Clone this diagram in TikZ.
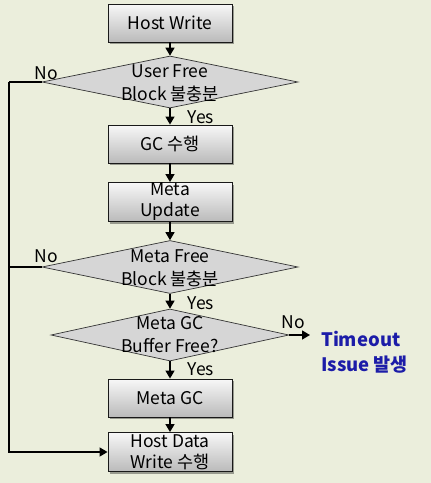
\documentclass[tikz,border=0pt]{standalone}
\usepackage{fontspec}
\setmainfont{Noto Sans CJK KR}
\usetikzlibrary{shapes.geometric,arrows.meta,shadows}
\definecolor{bgc}{HTML}{EBEEDC}
\definecolor{diafill}{HTML}{D6D6D6}
\definecolor{tblue}{HTML}{1C1CA8}
\tikzset{
  box/.style={draw=black!90, line width=0.9pt, minimum width=124pt, minimum height=38pt,
    top color=white!97!black, bottom color=black!27, align=center, inner sep=0pt,
    font=\fontsize{17.5}{21}\selectfont,
    drop shadow={shadow xshift=2pt, shadow yshift=-2pt, fill=black, opacity=0.35}},
  dia/.style={shape=diamond, draw=black!80, line width=0.7pt, fill=diafill, inner sep=0pt},
  diatext/.style={align=center, font=\fontsize{17.5}{23}\selectfont},
  lbl/.style={font=\fontsize{17.5}{20}\selectfont, inner sep=0pt},
  conn/.style={draw=black, line width=1.4pt, -{Triangle[length=8pt,width=9pt]}},
  plain/.style={draw=black, line width=1.4pt}
}
\begin{document}
\begin{tikzpicture}[x=1pt,y=-1pt]
\fill[bgc] (0,0) rectangle (431,483);
\useasboundingbox (0,0) rectangle (431,483);

\node[box] (hw) at (170,23) {Host Write};
\node[dia, minimum width=256pt, minimum height=52pt] (d1) at (170,82) {};
\node[diatext] (d1t) at (170,83) {User Free\\Block 불충분};
\node[box] (gc) at (170,144) {GC 수행};
\node[box, minimum height=39pt] (mu) at (170,202) {Meta\\Update};
\node[dia, minimum width=256pt, minimum height=53pt] (d2) at (170,267) {};
\node[diatext] (d2t) at (170,268) {Meta Free\\Block 불충분};
\node[dia, minimum width=238pt, minimum height=52pt] (d3) at (170,335) {};
\node[diatext] (d3t) at (170,335) {Meta GC\\Buffer Free?};
\node[box] (mgc) at (170,398) {Meta GC};
\node[box, minimum height=39pt] (hdw) at (170,452) {Host Data\\Write 수행};

\node[anchor=west, align=left, text=tblue, font=\bfseries\fontsize{18.5}{25}\selectfont, inner sep=0pt] (to) at (321,352) {Timeout\\Issue 발생};

\coordinate (lt) at (9,82);
\coordinate (lm) at (9,267);
\coordinate (lb) at (9,452);
\coordinate (rn) at (310,335);

\draw[conn] (hw) -- (d1.north);
\draw[conn] (d1.south) -- (gc);
\draw[conn] (gc) -- (mu);
\draw[conn] (mu) -- (d2.north);
\draw[conn] (d2.south) -- (d3.north);
\draw[conn] (d3.south) -- (mgc);
\draw[conn] (mgc) -- (hdw);
\draw[conn] (d3.east) -- (rn);
\draw[plain] (d1.west) -- (lt);
\draw[conn] (lt) -- (lb) -- (hdw.west);
\draw[plain] (d2.west) -- (lm);

\node[lbl] (no1) at (46,73) {No};
\node[lbl] (no2) at (46,256) {No};
\node[lbl] (no3) at (293,322) {No};
\node[lbl] (y1) at (201,117) {Yes};
\node[lbl] (y2) at (201,303) {Yes};
\node[lbl] (y3) at (201,369) {Yes};
\end{tikzpicture}
\end{document}
